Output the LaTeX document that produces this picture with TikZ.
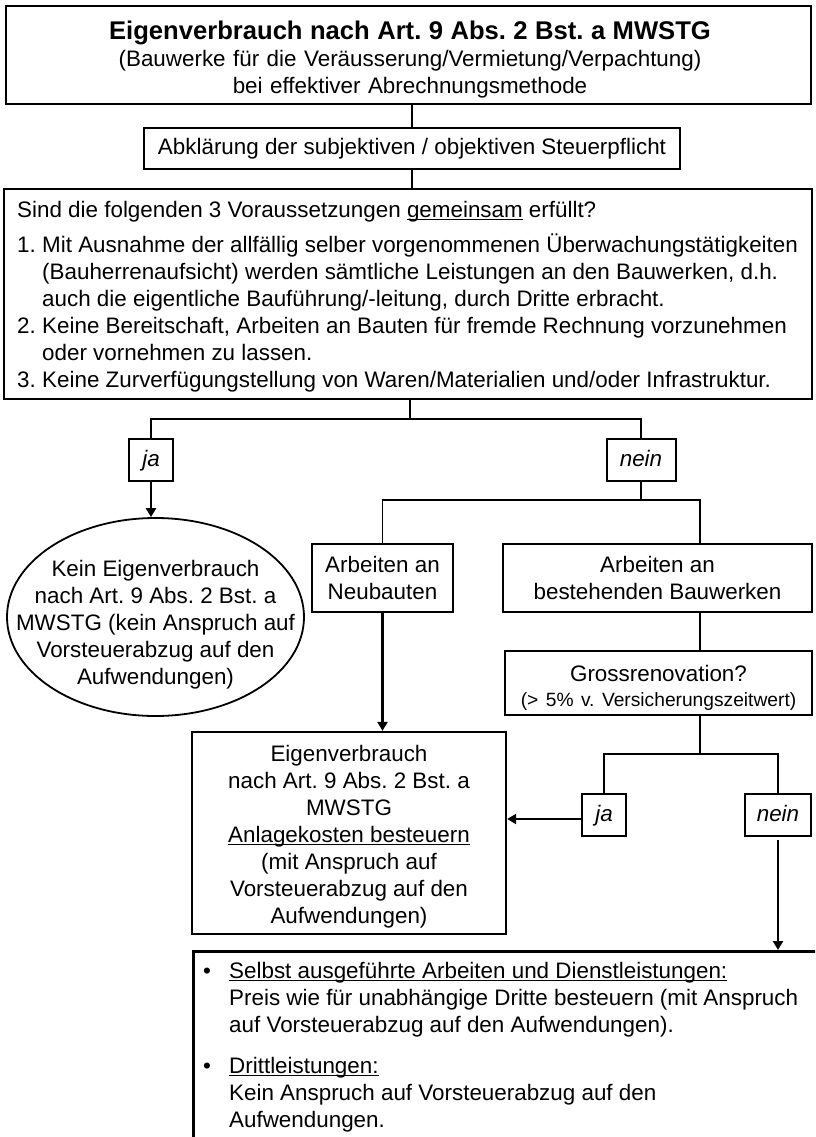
\documentclass[tikz,border=0pt]{standalone}
\usepackage{fontspec}
\setmainfont{Liberation Sans}
\usetikzlibrary{arrows.meta,shapes.geometric}
\frenchspacing
\newcommand{\fsreg}{\fontsize{22.4}{27}\selectfont}
\newcommand{\fssmall}{\fontsize{19.2}{23}\selectfont}
\newcommand{\fstitle}{\fontsize{25.6}{27}\selectfont\bfseries}
\newcommand{\myul}[1]{\setbox0\hbox{#1}\rlap{\rule[-2.6pt]{\wd0}{1.3pt}}\box0\relax}
\tikzset{
  box/.style={draw, line width=2pt, inner sep=0pt, align=center, font=\fsreg},
  txt/.style={inner sep=0pt, font=\fsreg},
  conn/.style={line width=1.7pt},
  arr/.style={line width=2.8pt, -{Triangle[length=9pt,width=10pt]}},
  choice/.style={box, font=\fsreg\itshape, minimum height=42pt, text height=17pt, text depth=4pt},
}
\begin{document}
\begin{tikzpicture}[x=1pt,y=-1pt]
\useasboundingbox (0,0) rectangle (815,1137);
\clip (0,0) rectangle (815,1137);
\fill[white] (0,0) rectangle (815,1137);

% top
\node[box, minimum width=805pt, minimum height=98pt] (top) at (408.5,55) {};
\node[txt, align=center, text width=790pt] (toptxt) at (410,60)
  {{\fstitle Eigenverbrauch nach Art. 9 Abs. 2 Bst. a MWSTG}\\(Bauwerke für die Veräusserung/Vermietung/Verpachtung)\\bei effektiver Abrechnungsmethode};

\node[box, minimum width=536pt, minimum height=41pt] (abk) at (412,148.5)
  {Abklärung der subjektiven / objektiven Steuerpflicht};

\node[box, minimum width=808pt, minimum height=210pt] (cond) at (408,294) {};
\node[txt, align=left, anchor=north west] (condtxt) at (17,201)
  {Sind die folgenden 3 Voraussetzungen \myul{gemeinsam} erfüllt?\\[8pt]
   \makebox[25pt][l]{1.}Mit Ausnahme der allfällig selber vorgenommenen Überwachungstätigkeiten\\
   \hspace*{25pt}(Bauherrenaufsicht) werden sämtliche Leistungen an den Bauwerken, d.h.\\
   \hspace*{25pt}auch die eigentliche Bauführung/-leitung, durch Dritte erbracht.\\
   \makebox[25pt][l]{2.}Keine Bereitschaft, Arbeiten an Bauten für fremde Rechnung vorzunehmen\\
   \hspace*{25pt}oder vornehmen zu lassen.\\
   \makebox[25pt][l]{3.}Keine Zurverfügungstellung von Waren/Materialien und/oder Infrastruktur.};

\draw[conn] (abk.north) -- (abk.north |- top.south);
\draw[conn] (abk.south) -- (abk.south |- cond.north);

% first decision
\node[choice, minimum width=44pt] (ja1) at (151,459.5) {ja};
\node[choice, minimum width=69pt] (nein1) at (641,459.5) {nein};
\coordinate (b1) at (410,419);
\draw[conn] (cond.south -| b1) -- (b1);
\draw[conn] (ja1.north) |- (b1) -| (nein1.north);

% ellipse
\node[draw, ellipse, line width=1.8pt, minimum width=297pt, minimum height=198pt, inner sep=0pt] (ell) at (155.5,617) {};
\node[txt, align=center] (elltxt) at (155.5,625)
  {Kein Eigenverbrauch\\nach Art. 9 Abs. 2 Bst. a\\MWSTG (kein Anspruch auf\\Vorsteuerabzug auf den\\Aufwendungen)};
\draw[arr] (ja1.south) -- (ja1.south |- ell.north);

% nein branch
\node[box, minimum width=141pt, minimum height=68pt] (neu) at (382.5,578) {Arbeiten an\\Neubauten};
\node[box, minimum width=309pt, minimum height=68pt] (best) at (657.5,578) {Arbeiten an\\bestehenden Bauwerken};
\node[box, minimum width=307pt, minimum height=64pt] (gross) at (658.5,683) {};
\node[txt, align=center, text width=300pt] (grosstxt) at (658.5,688)
  {Grossrenovation?\\[-2pt]{\fssmall (> 5\% v. Versicherungszeitwert)}};
\coordinate (b2) at (641,500);
\coordinate (bx) at (700,0);
\draw[conn] (nein1.south) -- (b2);
\draw[conn] (neu.north) |- (b2) -| (bx |- best.north);
\draw[conn] (bx |- best.south) -- (bx |- gross.north);

% second decision
\node[choice, minimum width=44pt] (ja2) at (604,815) {ja};
\node[choice, minimum width=66pt] (nein2) at (778,815) {nein};
\coordinate (b3) at (700,754);
\draw[conn] (bx |- gross.south) -- (b3);
\draw[conn] (ja2.north) |- (b3) -| (nein2.north);

% Eigenverbrauch box
\node[box, line width=2.3pt, minimum width=314pt, minimum height=202pt] (eig) at (349,833) {};
\node[txt, align=center] (eigtxt) at (349,837)
  {Eigenverbrauch\\nach Art. 9 Abs. 2 Bst. a\\MWSTG\\\myul{Anlagekosten besteuern}\\(mit Anspruch auf\\Vorsteuerabzug auf den\\Aufwendungen)};
\draw[arr] (neu.south) -- (neu.south |- eig.north);
\draw[arr] ([yshift=-4pt]ja2.west) -- ([yshift=-4pt]ja2.west -| eig.east);

% bottom box
\node[draw, line width=2.6pt, anchor=north west, minimum width=640pt, minimum height=260pt, inner sep=0pt] (bot) at (192,950) {};
\node[txt, anchor=north west, align=left] (bottxt) at (203,962)
  {\makebox[26pt][l]{•}\myul{Selbst ausgeführte Arbeiten und Dienstleistungen:}\\
   \hspace*{26pt}Preis wie für unabhängige Dritte besteuern (mit Anspruch\\
   \hspace*{26pt}auf Vorsteuerabzug auf den Aufwendungen).\\[14pt]
   \makebox[26pt][l]{•}\myul{Drittleistungen:}\\
   \hspace*{26pt}Kein Anspruch auf Vorsteuerabzug auf den\\
   \hspace*{26pt}Aufwendungen.};
\draw[arr, shorten <=3pt] (nein2.south) -- (nein2.south |- bot.north);
\end{tikzpicture}
\end{document}
